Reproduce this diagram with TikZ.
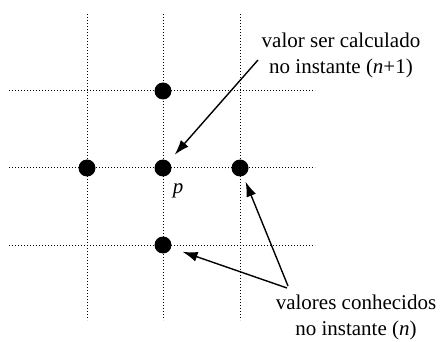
\documentclass[tikz,border=0pt]{standalone}
\usepackage{fontspec}
\setmainfont{Liberation Serif}
\usetikzlibrary{arrows.meta,positioning}

\tikzset{
  gridline/.style={line width=1pt,dash pattern=on 1pt off 2pt},
  dot/.style={circle,fill=black,inner sep=0pt,minimum size=17pt},
  note/.style={align=center,font=\fontsize{21}{26}\selectfont},
  pointer/.style={-{Latex[length=15pt,width=10pt]},line width=1.4pt}
}

\begin{document}
\begin{tikzpicture}[x=1pt,y=-1pt]
\useasboundingbox (0,0) rectangle (442,342);

% malha
\foreach \x in {87,163,240} {
    \draw[gridline] (\x,14) -- (\x,320);
}
\foreach \y in {91,168,245} {
    \draw[gridline] (9,\y) -- (315,\y);
}

% pontos
\foreach \n/\x/\y in {top/163/91, left/87/168, p/163/168, right/240/168, bottom/163/245} {
    \node[dot] (\n) at (\x,\y) {};
}
\node[font=\fontsize{21}{26}\selectfont\itshape] (plabel) at (178,191) {p};

% textos
\node[note] (calc) at (341,55) {valor ser calculado\\no instante (\textit{n}+1)};
\node[note] (conh) at (356,317) {valores conhecidos\\no instante (\textit{n})};

\coordinate (cstart) at (258,60);
\coordinate (kstart) at (287,288);
\coordinate (kstart2) at (288,286);

\draw[pointer,shorten >=9pt] (cstart) -- (p);
\draw[pointer,shorten >=12pt] (kstart) -- (bottom);
\draw[pointer,shorten >=6pt] (kstart2) -- (right);
\end{tikzpicture}
\end{document}
